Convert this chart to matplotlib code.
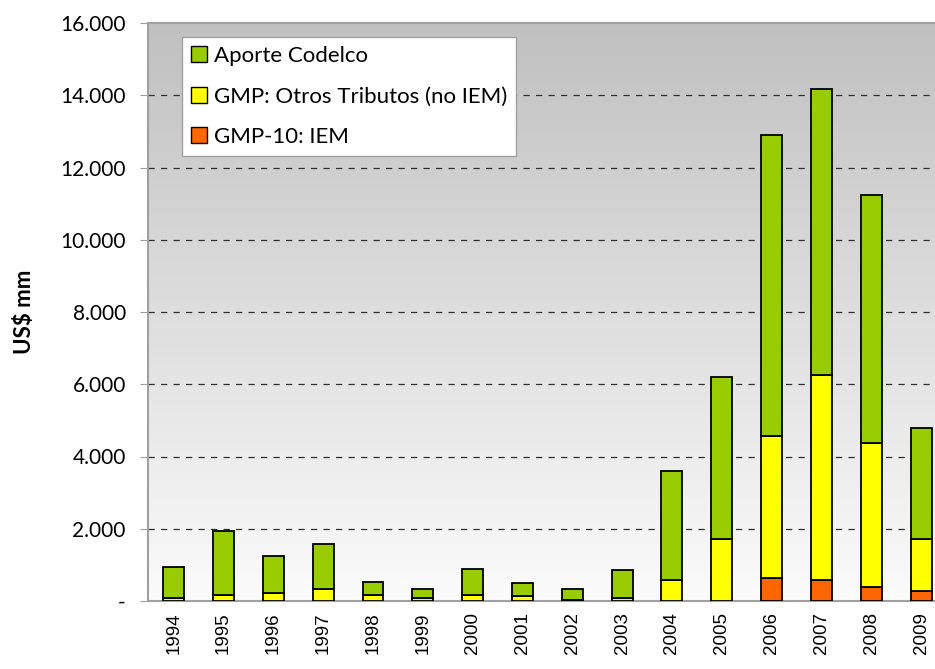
import numpy as np
import matplotlib
matplotlib.use("Agg")
import matplotlib.pyplot as plt
from matplotlib.patches import Patch
from matplotlib.ticker import FuncFormatter

# data (US$ mm)
years = ["1994", "1995", "1996", "1997", "1998", "1999", "2000", "2001",
         "2002", "2003", "2004", "2005", "2006", "2007", "2008", "2009"]
iem = [0, 0, 0, 0, 0, 0, 0, 0, 0, 0, 0, 0, 642, 587, 383, 288]
otros = [75, 176, 232, 335, 168, 92, 168, 131, 28, 84, 587, 1712, 3919, 5678, 3983, 1424]
codelco = [875, 1751, 1025, 1238, 371, 252, 726, 372, 307, 762, 3025, 4498, 8352, 7903, 6866, 3065]

green = "#99CC00"
yellow = "#FFFF00"
orange = "#FF6600"

fig = plt.figure(figsize=(9.35, 6.69), dpi=100)
ax = fig.add_axes([148 / 935, 1 - 601 / 669, 1 - 148 / 935, 578 / 669])

x = np.arange(len(years))
w = 0.42
iem = np.array(iem)
otros = np.array(otros)
codelco = np.array(codelco)

ax.bar(x, iem, w, color=orange, edgecolor="black", linewidth=1.3, zorder=3)
ax.bar(x, otros, w, bottom=iem, color=yellow, edgecolor="black", linewidth=1.3, zorder=3)
ax.bar(x, codelco, w, bottom=iem + otros, color=green, edgecolor="black", linewidth=1.3, zorder=3)

ax.set_xlim(-0.516, 15.28)
ax.set_ylim(0, 16000)

# gradient background, gray on top fading to white
grad = np.linspace(0, 1, 256).reshape(-1, 1)
cmap = matplotlib.colors.LinearSegmentedColormap.from_list("bg", ["#c0c0c0", "#fbfbfb"])
ax.imshow(grad, extent=[0, 1, 0, 1], origin="upper", transform=ax.transAxes,
          cmap=cmap, aspect="auto", zorder=0)

for v in range(2000, 16000, 2000):
    ax.axhline(v, color="#303030", linewidth=0.9, dashes=(5, 5), zorder=1)

for s in ["left", "top", "bottom"]:
    ax.spines[s].set_color("#a0a0a0")
    ax.spines[s].set_linewidth(1.5)
ax.spines["right"].set_visible(False)

ax.set_yticks(range(0, 16001, 2000))
ax.yaxis.set_major_formatter(FuncFormatter(
    lambda v, p: "-" if v == 0 else f"{int(v):,}".replace(",", ".")))
ax.tick_params(axis="y", length=6, color="#a0a0a0", labelsize=15, pad=10)
for t in ax.get_yticklabels():
    t.set_family("Lato")

ax.set_xticks(x)
ax.set_xticklabels(years, rotation=90, fontsize=13.5, family="Liberation Sans", va="top")
ax.tick_params(axis="x", length=0, pad=8)

ax.set_ylabel("US$ mm", fontsize=16, fontweight="bold", family="Lato")
ax.yaxis.set_label_coords(-0.143, 0.5)

handles = [Patch(facecolor=green, edgecolor="black"),
           Patch(facecolor=yellow, edgecolor="black"),
           Patch(facecolor=orange, edgecolor="black")]
labels = ["Aporte Codelco", "GMP: Otros Tributos (no IEM)", "GMP-10: IEM"]
leg = ax.legend(handles, labels, loc="upper left", bbox_to_anchor=(0.043, 0.976),
                borderaxespad=0, fancybox=False, framealpha=1, edgecolor="#a0a0a0",
                prop={"family": "Lato", "size": 16}, handlelength=0.75,
                handleheight=0.75, handletextpad=0.3, labelspacing=0.93,
                borderpad=0.4)
leg.get_frame().set_linewidth(1.0)
leg.set_zorder(5)

fig.savefig("out.png", dpi=100)
